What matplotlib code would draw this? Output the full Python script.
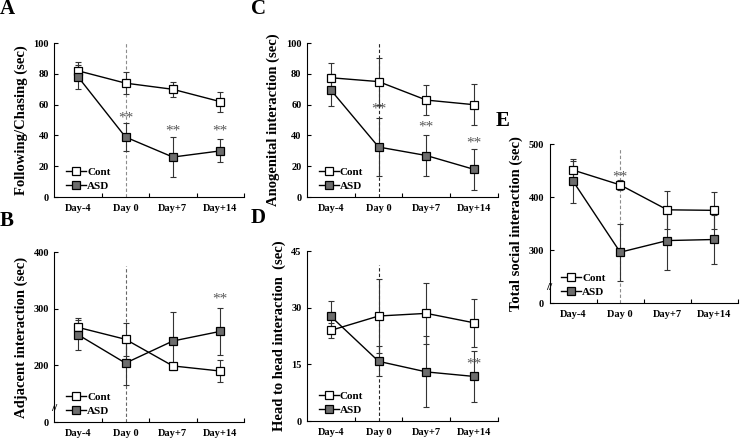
import numpy as np
import matplotlib
matplotlib.use("Agg")
import matplotlib.pyplot as plt

plt.rcParams['font.family'] = ['Liberation Serif', 'DejaVu Serif']
plt.rcParams['font.weight'] = 'bold'

days = ['Day-4', 'Day 0', 'Day+7', 'Day+14']

# A - following / chasing
follow_cont = [82, 74, 70, 62]
follow_cont_err = [6, 7, 5, 6.5]
follow_asd = [78, 39, 26, 30]
follow_asd_err = [8, 9, 13, 7.5]
follow_sig_idx = [1, 2, 3]
follow_sig_y = [51.5, 43, 43]

# B - adjacent interaction (broken axis)
adj_cont = [267, 246, 199, 190]
adj_cont_err = [16, 29, 5, 19]
adj_asd = [254, 204, 243, 260]
adj_asd_err = [26, 39, 51, 42]
adj_sig_idx = [3]
adj_sig_y = [317]
adj_ticks = [0, 200, 300, 400]

# C - anogenital interaction
ano_cont = [77.5, 75, 63, 60]
ano_cont_err = [9.5, 15.5, 10, 13.5]
ano_asd = [69.5, 32.5, 27, 18]
ano_asd_err = [10.5, 19, 13.5, 13.5]
ano_sig_idx = [1, 2, 3]
ano_sig_y = [57, 45.5, 35]

# D - head to head
head_cont = [24, 27.8, 28.5, 26]
head_cont_err = [2, 9.7, 8, 6.4]
head_asd = [27.7, 15.8, 13, 11.8]
head_asd_err = [4.2, 4, 9.4, 6.8]
head_sig_idx = [3]
head_sig_y = [15.2]

# E - total social interaction (broken axis)
total_cont = [451, 423, 376, 375]
total_cont_err = [18, 10, 36, 35]
total_asd = [430, 296, 318, 320]
total_asd_err = [41, 54, 56, 46]
total_sig_idx = [1]
total_sig_y = [437]
total_ticks = [0, 300, 400, 500]


def broken(vals, offset):
    # values above the break are shifted down so the gap 0..offset collapses
    v = np.asarray(vals, dtype=float)
    return np.where(v > 0, v - offset, v)


def panel(ax, cont, cont_err, asd, asd_err, sig_idx, sig_y, ylabel,
          ylim, yticks, ylabels=None, vline_top=1.0, vline_color='0.45',
          brk=None):
    x = np.arange(len(days)) + 0.5
    ebkw = dict(fmt='none', ecolor='0.2', elinewidth=0.8, capsize=2.5, capthick=0.8)
    ax.errorbar(x, cont, yerr=cont_err, zorder=2, **ebkw)
    ax.plot(x, cont, '-s', color='black', lw=1, ms=6, mfc='white',
            mec='black', mew=0.9, label='Cont', zorder=3)
    ax.errorbar(x, asd, yerr=asd_err, zorder=2, **ebkw)
    ax.plot(x, asd, '-s', color='black', lw=1, ms=6, mfc='#6d6d6d',
            mec='black', mew=0.9, label='ASD', zorder=4)
    ax.axvline(x[1], ymin=0, ymax=vline_top, color=vline_color, lw=0.8,
               ls=(0, (3, 2)), zorder=1)
    for i, yy in zip(sig_idx, sig_y):
        ax.text(x[i], yy, '**', ha='center', va='center', fontsize=11,
                fontweight='normal', color='0.35', zorder=5)
    ax.set_xlim(0, 4)
    ax.set_ylim(*ylim)
    ax.set_yticks(yticks)
    if ylabels is not None:
        ax.set_yticklabels(ylabels)
    ax.set_xticks([1, 2, 3, 4])
    ax.set_xticklabels([])
    ax.set_xticks(x, minor=True)
    ax.set_xticklabels(days, minor=True)
    ax.tick_params(axis='x', which='major', direction='in', length=3, width=0.8)
    ax.tick_params(axis='x', which='minor', length=0, pad=5, labelsize=7.5)
    ax.tick_params(axis='y', direction='in', length=3, width=0.8, labelsize=7.5, pad=4)
    for s in ['top', 'right']:
        ax.spines[s].set_visible(False)
    for s in ['left', 'bottom']:
        ax.spines[s].set_linewidth(0.8)
    ax.set_ylabel(ylabel, fontsize=10.5, fontweight='bold')
    ax.legend(loc='lower left', bbox_to_anchor=(0.02, -0.01), frameon=False,
              fontsize=8, handlelength=1.8, handletextpad=0.1,
              labelspacing=0.35, borderaxespad=0.3)
    if brk is not None:
        ax.text(0, brk, '//', transform=ax.transAxes, ha='center', va='center',
                fontsize=8, fontweight='bold')


fig = plt.figure(figsize=(7.4, 4.38), dpi=100)

axA = fig.add_axes([0.0736, 0.550, 0.256, 0.3516])
panel(axA, follow_cont, follow_cont_err, follow_asd, follow_asd_err,
      follow_sig_idx, follow_sig_y, 'Following/Chasing (sec)',
      (0, 100), [0, 20, 40, 60, 80, 100], vline_color='0.55')

axB = fig.add_axes([0.0736, 0.0365, 0.256, 0.388])
b_off = 100
panel(axB, broken(adj_cont, b_off), adj_cont_err, broken(adj_asd, b_off), adj_asd_err,
      adj_sig_idx, broken(adj_sig_y, b_off), 'Adjacent interaction (sec)',
      (0, 300), broken(adj_ticks, b_off), [str(t) for t in adj_ticks],
      vline_top=0.92, vline_color='0.4', brk=0.08)

axC = fig.add_axes([0.4149, 0.550, 0.258, 0.3516])
panel(axC, ano_cont, ano_cont_err, ano_asd, ano_asd_err,
      ano_sig_idx, ano_sig_y, 'Anogenital interaction (sec)',
      (0, 100), [0, 20, 40, 60, 80, 100], vline_color='0.15')

axD = fig.add_axes([0.4149, 0.0388, 0.258, 0.388])
panel(axD, head_cont, head_cont_err, head_asd, head_asd_err,
      head_sig_idx, head_sig_y, 'Head to head interaction  (sec)',
      (0, 45), [0, 15, 30, 45], vline_top=0.92, vline_color='0.15')

axE = fig.add_axes([0.7426, 0.308, 0.2547, 0.363])
e_off = 200
panel(axE, broken(total_cont, e_off), total_cont_err, broken(total_asd, e_off), total_asd_err,
      total_sig_idx, broken(total_sig_y, e_off), 'Total social interaction (sec)',
      (0, 300), broken(total_ticks, e_off), [str(t) for t in total_ticks],
      vline_top=0.97, vline_color='0.55', brk=0.10)

for lab, (px, py) in zip('ABCDE', [(7, 9), (7, 221), (258, 9), (258, 218), (503, 121)]):
    fig.text(px / 740, 1 - py / 438, lab, fontsize=15, fontweight='bold',
             ha='center', va='center')

fig.savefig('out.png', dpi=100)
